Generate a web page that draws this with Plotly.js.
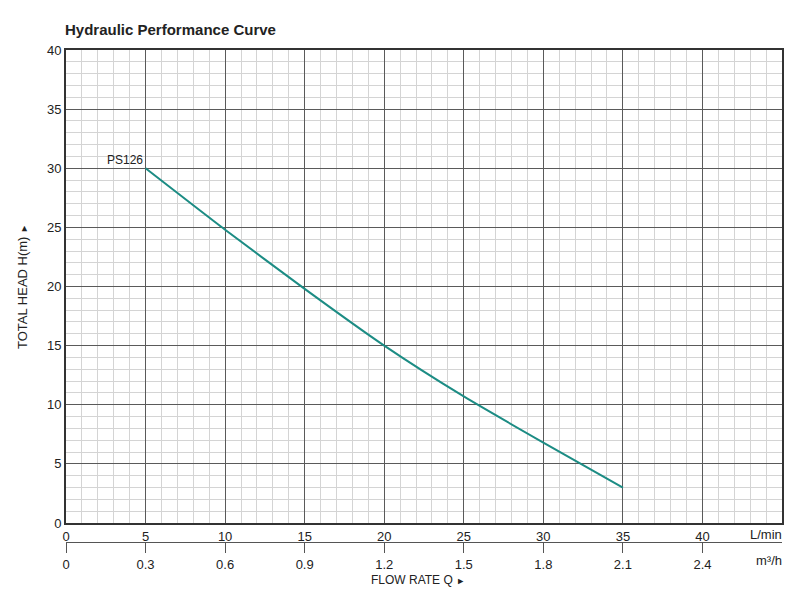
<!DOCTYPE html>
<html>
<head>
<meta charset="utf-8">
<script src="https://cdn.plot.ly/plotly-3.0.1.min.js"></script>
<style>html,body{margin:0;padding:0;background:#fff;}#chart{width:800px;height:593px;}</style>
</head>
<body>
<div id="chart"></div>
<script>
// Data
const flowLmin = [5, 10, 15, 20, 25, 30, 35];
const headM = [30, 24.8, 19.8, 15.0, 10.7, 6.8, 3.0];
const lminTicks = [0, 5, 10, 15, 20, 25, 30, 35, 40];
const m3hTicks = [0, 0.3, 0.6, 0.9, 1.2, 1.5, 1.8, 2.1, 2.4];
const m3hLabels = ['0', '0.3', '0.6', '0.9', '1.2', '1.5', '1.8', '2.1', '2.4'];
const headTicks = [0, 5, 10, 15, 20, 25, 30, 35, 40];
const modelName = 'PS126';

const FONT = 'Liberation Sans, Arial, sans-serif';
const txt = '#222';

const traces = [
  {
    x: flowLmin, y: headM, type: 'scatter', mode: 'lines',
    line: {color: '#1c8c84', width: 2, shape: 'spline', smoothing: 0.6},
    hoverinfo: 'skip', showlegend: false
  },
  {
    x: flowLmin.map(v => v * 0.06), y: headM, type: 'scatter', mode: 'lines',
    xaxis: 'x2', yaxis: 'y', opacity: 0, hoverinfo: 'skip', showlegend: false
  }
];

const layout = {
  width: 800, height: 593,
  margin: {l: 66, r: 18, t: 50, b: 51},
  paper_bgcolor: '#fff', plot_bgcolor: '#fff',
  font: {family: FONT, size: 13, color: txt},
  showlegend: false,
  title: {
    text: '<b>Hydraulic Performance Curve</b>',
    font: {family: FONT, size: 15, color: '#222'},
    xref: 'container', x: 65/800, xanchor: 'left',
    yref: 'container', y: 1 - 30/593, yanchor: 'middle'
  },
  xaxis: {
    range: [0, 45], anchor: 'y',
    tickvals: lminTicks, ticks: '', ticklen: 0,
    tickfont: {family: FONT, size: 13, color: txt},
    showgrid: true, gridcolor: '#5a5a5a', gridwidth: 1,
    minor: {dtick: 1, showgrid: true, gridcolor: '#d4d4d4', gridwidth: 1},
    showline: true, linecolor: '#333', linewidth: 2, mirror: true,
    zeroline: false, fixedrange: true
  },
  xaxis2: {
    range: [0, 2.7], overlaying: 'x', anchor: 'free', position: 0, side: 'bottom',
    tickvals: m3hTicks, ticktext: m3hLabels,
    ticks: 'outside', ticklen: 10, tickcolor: '#555', tickwidth: 1,
    tickfont: {family: FONT, size: 13, color: txt},
    showgrid: false, zeroline: false,
    showline: true, linecolor: '#555', linewidth: 1, fixedrange: true
  },
  yaxis: {
    range: [0, 40], domain: [19/492, 1],
    tickvals: headTicks, ticks: '',
    tickfont: {family: FONT, size: 13, color: txt},
    showgrid: true, gridcolor: '#5a5a5a', gridwidth: 1,
    minor: {dtick: 1, showgrid: true, gridcolor: '#d4d4d4', gridwidth: 1},
    showline: true, linecolor: '#333', linewidth: 2, mirror: true,
    zeroline: false, fixedrange: true
  },
  annotations: [
    {x: 5, y: 30, xref: 'x', yref: 'y', text: modelName, showarrow: false,
     xanchor: 'right', yanchor: 'bottom', xshift: -1, yshift: -1,
     font: {family: FONT, size: 12, color: txt}},
    {x: 1, y: 8/492, xref: 'paper', yref: 'paper', text: 'L/min', showarrow: false,
     xanchor: 'right', yanchor: 'middle', xshift: 2, font: {family: FONT, size: 13, color: txt}},
    {x: 1, y: -18/492, xref: 'paper', yref: 'paper', text: 'm³/h', showarrow: false,
     xanchor: 'right', yanchor: 'middle', xshift: 2, font: {family: FONT, size: 13, color: txt}},
    {x: (418-66)/716, y: -38/492, xref: 'paper', yref: 'paper',
     text: 'FLOW RATE Q <span style="font-size:9px">►</span>', showarrow: false,
     xanchor: 'center', yanchor: 'middle', font: {family: FONT, size: 12, color: txt}},
    {x: -44/716, y: (542-287)/492, xref: 'paper', yref: 'paper',
     text: 'TOTAL HEAD H(m) <span style="font-size:9px">►</span>', showarrow: false,
     textangle: -90, xanchor: 'center', yanchor: 'middle',
     font: {family: FONT, size: 13, color: txt}}
  ]
};

Plotly.newPlot('chart', traces, layout, {staticPlot: true, displayModeBar: false});
</script>
</body>
</html>
